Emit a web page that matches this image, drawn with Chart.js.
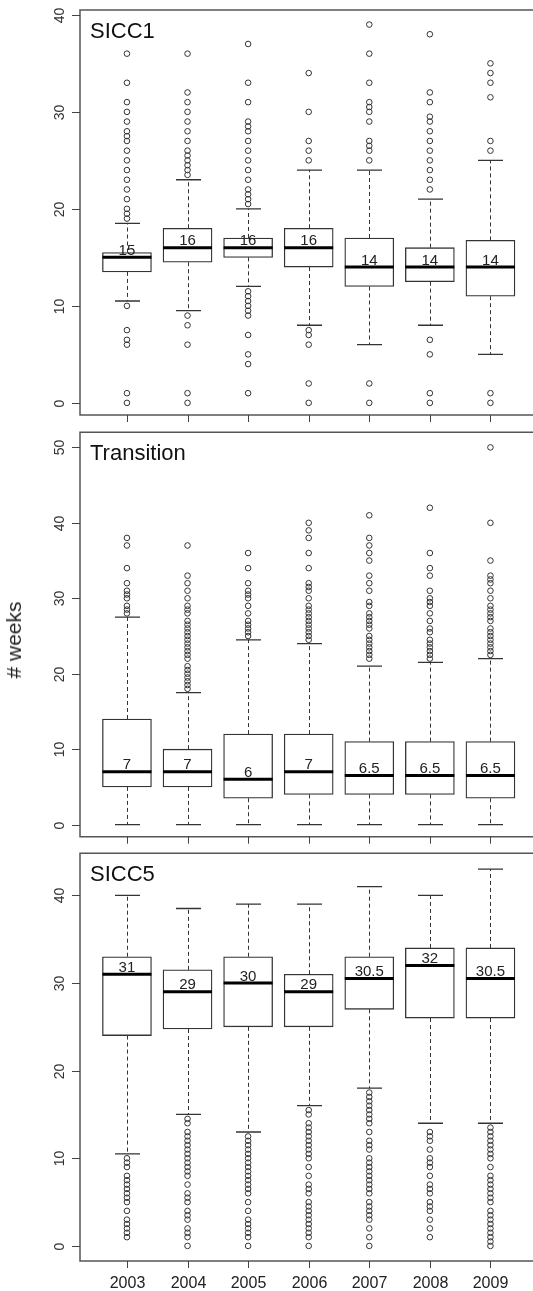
<!DOCTYPE html>
<html><head><meta charset="utf-8">
<script src="https://cdn.jsdelivr.net/npm/chart.js@4"></script>
<style>
html,body{margin:0;padding:0;background:#fff;overflow:hidden;width:533px;height:1291px;position:relative}
canvas{position:absolute;left:0}
#ylab{position:absolute;left:14px;top:640px;transform:translate(-50%,-50%) rotate(-90deg);font:21px "Liberation Sans",Arial,sans-serif;color:#222;white-space:nowrap}
</style></head><body>
<canvas id="c1" width="533" height="425" style="top:0px"></canvas>
<canvas id="c2" width="533" height="420" style="top:425px"></canvas>
<canvas id="c3" width="533" height="446" style="top:845px"></canvas>
<div id="ylab"># weeks</div>
<script>
const years = ['2003','2004','2005','2006','2007','2008','2009'];

// SICC1
const sicc1Low  = [10.5, 9.5, 12, 8, 6, 8, 5];
const sicc1Q1   = [13.5, 14.5, 15, 14, 12, 12.5, 11];
const sicc1Med  = [15, 16, 16, 16, 14, 14, 14];
const sicc1Q3   = [15.5, 18, 17, 18, 17, 16, 16.75];
const sicc1High = [18.5, 23, 20, 24, 24, 21, 25];
const sicc1Out = [
  [36,33,31,30,29,28,27.5,27,26,25,24,23,22,21,20,19.5,19,10,7.5,6.5,6,1,0],
  [36,32,31,30,29,28,27,26,25.5,25,24.5,24,23.5,9,8,6,1,0],
  [37,33,31,29,28.5,28,27,26,25,24,23,22,21.5,21,20.5,11.5,11,10.5,10,9.5,9,7,5,4,1],
  [34,30,27,26,25,7.5,7,6,2,0],
  [39,36,33,31,30.5,30,29,27,26.5,26,25,2,0],
  [38,32,31,29.5,29,28,27,26,25,24,23,22,6.5,5,1,0],
  [35,34,33,31.5,27,26,1,0]
];
const sicc1Ticks = [0,10,20,30,40];

// Transition
const transLow  = [0,0,0,0,0,0,0];
const transQ1   = [5,5,3.5,4,4,4,3.5];
const transMed  = [7,7,6,7,6.5,6.5,6.5];
const transQ3   = [14,10,12,12,11,11,11];
const transHigh = [27.5,17.5,24.5,24,21,21.5,22];
const transOut = [
  [38,37,34,32,31,30.5,30,29,28.5,28],
  [37,33,32,31,30,29,28.5,28,27,26.5,26,25.5,25,24.5,24,23.5,23,22.5,22,21,20.5,20,19.5,19,18.5,18],
  [36,34,32,31,30.5,30,29,28,27,26.5,26,25.5,25],
  [40,39,38,36,34,32,31.5,31,30,29,28.5,28,27.5,27,26.5,26,25.5,25,24.5],
  [41,38,37,36,35,33,32,31,29.5,29,28,27.5,27,26.5,26,25,24.5,24,23.5,23,22.5,22],
  [42,36,34,33,31,30,29.5,29,28,27,26,25.5,24.5,24,23.5,23,22.5,22],
  [50,40,35,33,32.5,32,31,30,29,28.5,28,27.5,27,26,25.5,25,24.5,24,23.5,23,22.5]
];
const transTicks = [0,10,20,30,40,50];

// SICC5
const sicc5Low  = [10.5,15,13,16,18,14,14];
const sicc5Q1   = [24,24.75,25,25,27,26,26];
const sicc5Med  = [31,29,30,29,30.5,32,30.5];
const sicc5Q3   = [33,31.5,33,31,33,34,34];
const sicc5High = [40,38.5,39,39,41,40,43];
const sicc5Out = [
  [10,9.5,9,8,7.5,7,6.5,6,5.5,5,4,3,2.5,2,1.5,1],
  [14.5,14,13,12.5,12,11.5,11,10.5,10,9.5,9,8.5,8,7,6,5.5,5,4,3.5,3,2,1.5,1,0],
  [12.5,12,11.5,11,10.5,10,9.5,9,8.5,8,7.5,7,6.5,6,5,4,3,2.5,2,1.5,1,0],
  [15.5,15,14,13.5,13,12.5,12,11.5,11,10.5,10,9,8,7,6.5,6,5,4.5,4,3.5,3,2.5,2,1.5,1,0],
  [17.5,17,16.5,16,15.5,15,14.5,14,13,12,11.5,11,10,9.5,9,8.5,8,7.5,7,6.5,6,5,4.5,4,3.5,3,2,1,0],
  [13,12.5,12,11,10,9.5,9,8,7,6.5,6,5,4.5,4,3,2,1],
  [13.5,13,12.5,12,11.5,11,10.5,10,9,8,7.5,7,6.5,6,5.5,5,4,3.5,3,2.5,2,1.5,1,0.5,0]
];
const sicc5Ticks = [0,10,20,30,40];

const FONT = '"Liberation Sans", Arial, sans-serif';

function makePlugin(cfg) {
  return {
    id: 'boxExtras',
    beforeDatasetsDraw(chart) {
      const {ctx, scales: {x, y}} = chart;
      ctx.save();
      ctx.strokeStyle = '#333';
      ctx.lineWidth = 1;
      years.forEach((yr, i) => {
        const px = Math.round(x.getPixelForValue(i + 1)) + 0.5;
        ctx.setLineDash([4, 3]);
        ctx.beginPath();
        ctx.moveTo(px, y.getPixelForValue(cfg.q3[i]));
        ctx.lineTo(px, y.getPixelForValue(cfg.high[i]));
        ctx.moveTo(px, y.getPixelForValue(cfg.q1[i]));
        ctx.lineTo(px, y.getPixelForValue(cfg.low[i]));
        ctx.stroke();
        ctx.setLineDash([]);
        ctx.lineWidth = 1.3;
        ctx.beginPath();
        const hi = y.getPixelForValue(cfg.high[i]);
        const lo = y.getPixelForValue(cfg.low[i]);
        ctx.moveTo(px - 12.5, hi); ctx.lineTo(px + 12.5, hi);
        ctx.moveTo(px - 12.5, lo); ctx.lineTo(px + 12.5, lo);
        ctx.stroke();
        ctx.lineWidth = 1;
      });
      ctx.restore();
    },
    afterDatasetsDraw(chart) {
      const {ctx, scales: {x, y}} = chart;
      ctx.save();
      years.forEach((yr, i) => {
        const px = x.getPixelForValue(i + 1);
        const pm = y.getPixelForValue(cfg.med[i]);
        ctx.strokeStyle = '#000';
        ctx.lineWidth = 3;
        ctx.beginPath();
        ctx.moveTo(px - 24.5, pm); ctx.lineTo(px + 24.5, pm);
        ctx.stroke();
        ctx.fillStyle = '#222';
        ctx.font = '15px ' + FONT;
        ctx.textAlign = 'center';
        ctx.textBaseline = 'alphabetic';
        ctx.fillText(String(cfg.med[i]), px, pm - 2.5);
      });
      ctx.restore();
    },
    afterDraw(chart) {
      const {ctx, chartArea: a, scales: {x, y}} = chart;
      const W = chart.width;
      ctx.save();
      ctx.strokeStyle = '#555';
      ctx.lineWidth = 1.5;
      ctx.beginPath();
      ctx.moveTo(W + 2, a.top); ctx.lineTo(a.left, a.top);
      ctx.lineTo(a.left, a.bottom); ctx.lineTo(W + 2, a.bottom);
      ctx.stroke();
      // y ticks
      ctx.strokeStyle = '#444';
      ctx.lineWidth = 1;
      ctx.fillStyle = '#333';
      ctx.font = '14px ' + FONT;
      cfg.ticks.forEach(v => {
        const py = Math.round(y.getPixelForValue(v)) + 0.5;
        ctx.beginPath();
        ctx.moveTo(a.left - 8, py); ctx.lineTo(a.left, py);
        ctx.stroke();
        ctx.save();
        ctx.translate(a.left - 20, py);
        ctx.rotate(-Math.PI / 2);
        ctx.textAlign = 'center';
        ctx.textBaseline = 'middle';
        ctx.fillText(String(v), 0, 0);
        ctx.restore();
      });
      // x ticks
      years.forEach((yr, i) => {
        const px = Math.round(x.getPixelForValue(i + 1)) + 0.5;
        ctx.beginPath();
        ctx.moveTo(px, a.bottom); ctx.lineTo(px, a.bottom + 7);
        ctx.stroke();
        if (cfg.xLabels) {
          ctx.fillStyle = '#222';
          ctx.font = '16px ' + FONT;
          ctx.textAlign = 'center';
          ctx.textBaseline = 'alphabetic';
          ctx.fillText(yr, px, a.bottom + 27);
        }
      });
      // title
      ctx.fillStyle = '#111';
      ctx.font = '22px ' + FONT;
      ctx.textAlign = 'left';
      ctx.textBaseline = 'alphabetic';
      ctx.fillText(cfg.title, a.left + 10, a.top + 28);
      ctx.restore();
    }
  };
}

function makePanel(id, cfg) {
  const outPts = [];
  cfg.out.forEach((arr, i) => arr.forEach(v => outPts.push({x: i + 1, y: v})));
  const boxData = years.map((yr, i) => ({x: i + 1, y: [cfg.q1[i], cfg.q3[i]]}));
  return new Chart(document.getElementById(id), {
    type: 'scatter',
    data: {
      datasets: [
        {type: 'bar', data: boxData, backgroundColor: '#fff', borderColor: '#333',
         borderWidth: 1.3, borderSkipped: false, barThickness: 49, order: 2},
        {type: 'scatter', data: outPts, pointRadius: 2.8, pointBorderWidth: 1,
         pointBorderColor: '#333', pointBackgroundColor: 'rgba(0,0,0,0)', order: 1}
      ]
    },
    options: {
      responsive: false, animation: false, devicePixelRatio: 1,
      layout: {padding: {left: 80, right: 0, top: cfg.padTop, bottom: cfg.padBottom}},
      scales: {
        x: {type: 'linear', min: 0.225, max: 7.62, offset: false, grid: {offset: false}, display: false},
        y: {type: 'linear', min: cfg.ymin, max: cfg.ymax, offset: false, display: false}
      },
      plugins: {legend: {display: false}, tooltip: {enabled: false}}
    },
    plugins: [makePlugin(cfg)]
  });
}

makePanel('c1', {title: 'SICC1', low: sicc1Low, q1: sicc1Q1, med: sicc1Med, q3: sicc1Q3, high: sicc1High,
  out: sicc1Out, ticks: sicc1Ticks, ymin: -1.25, ymax: 40.5, padTop: 10, padBottom: 10, xLabels: false});
makePanel('c2', {title: 'Transition', low: transLow, q1: transQ1, med: transMed, q3: transQ3, high: transHigh,
  out: transOut, ticks: transTicks, ymin: -1.6, ymax: 52, padTop: 7.3, padBottom: 8.3, xLabels: false});
makePanel('c3', {title: 'SICC5', low: sicc5Low, q1: sicc5Q1, med: sicc5Med, q3: sicc5Q3, high: sicc5High,
  out: sicc5Out, ticks: sicc5Ticks, ymin: -1.72, ymax: 44.8, padTop: 8.3, padBottom: 30, xLabels: true});
</script>
</body></html>
